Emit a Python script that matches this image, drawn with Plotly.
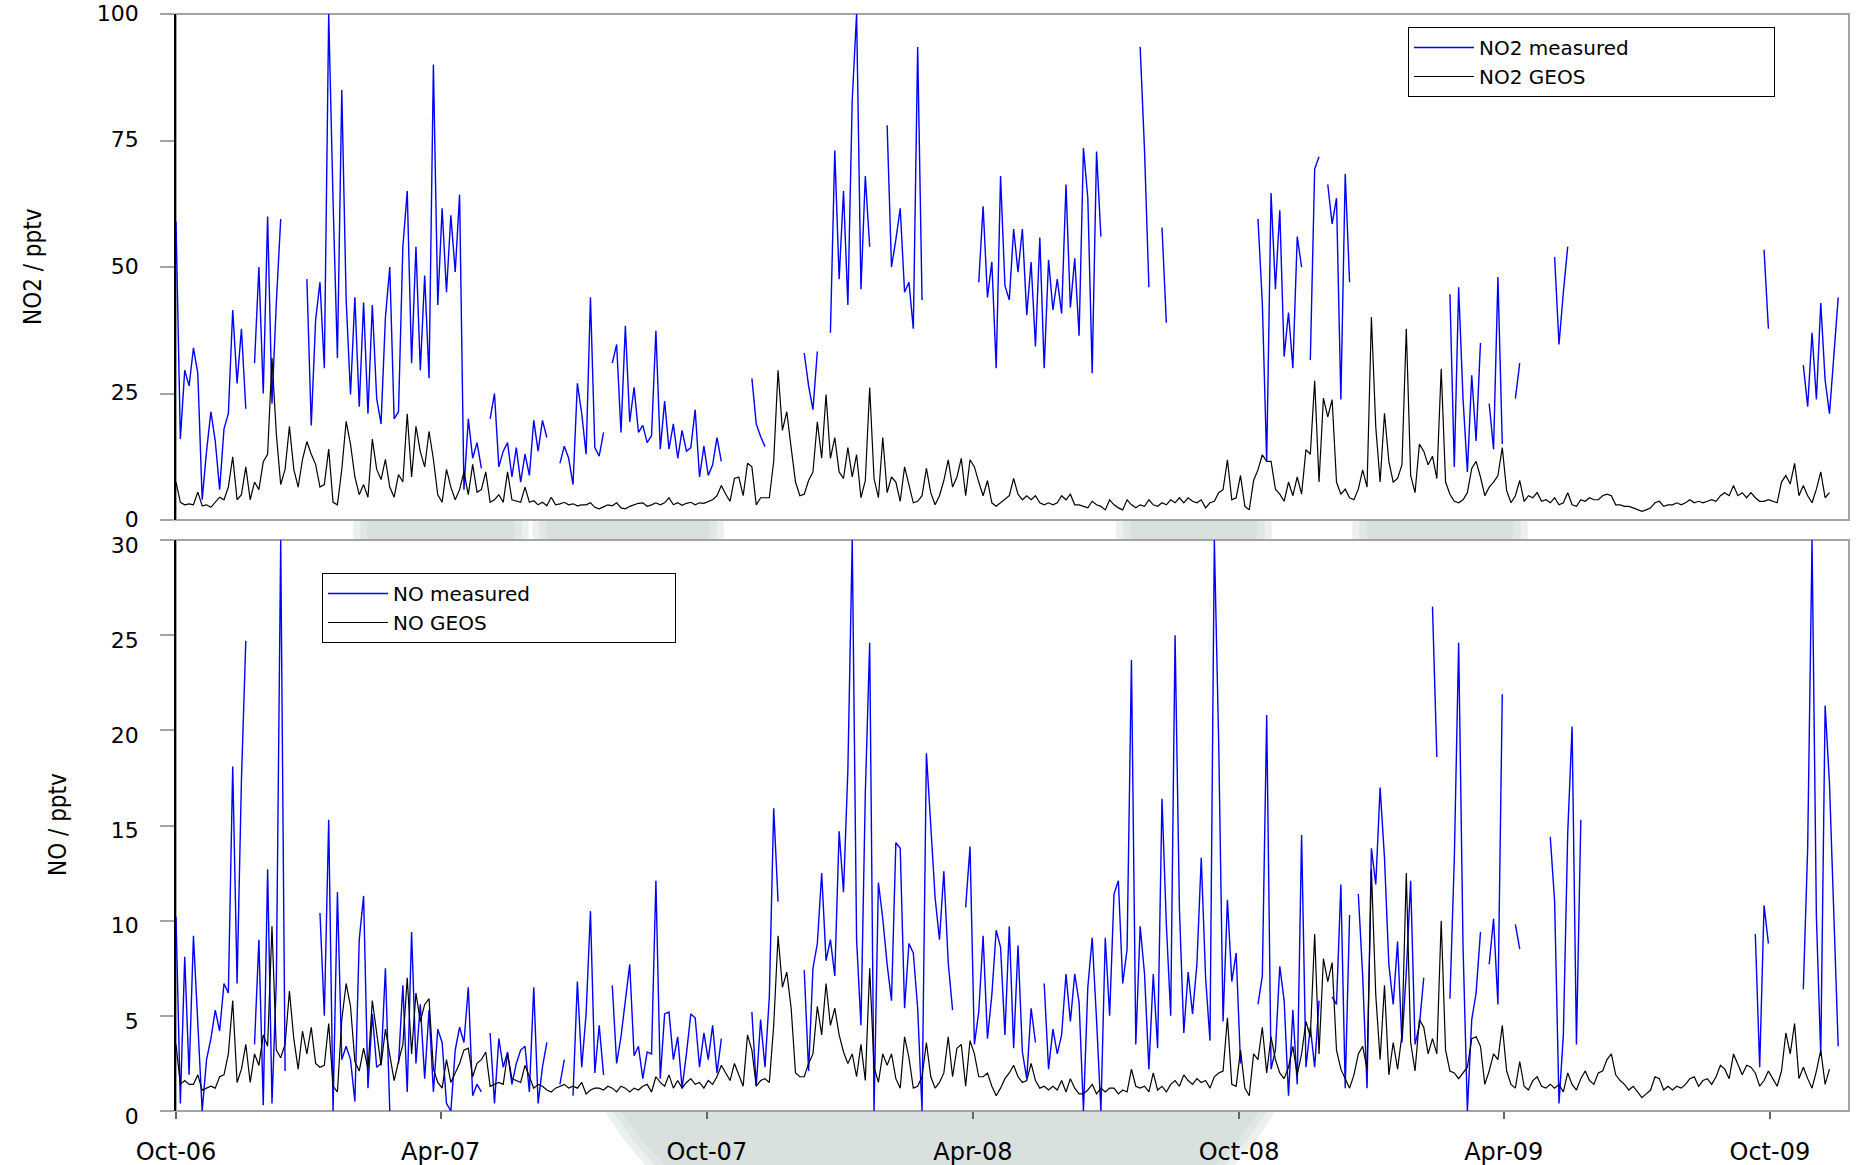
import pandas as pd
import plotly.graph_objects as go

N = None

# Daily-station series sampled every 3 days from 1 Oct 2006 (pptv)
no2_measured = [
    59, 16, 29.6, 26.5, 34, 29, 4, 13.6, 21.4, 15.6,
    6, 18, 21, 41.5, 27, 37.8, 22, N, 31, 50,
    25, 60, 23, 43, 59.5, N, N, N, N, N,
    47.6, 18.7, 39.5, 47, 30, 100, 63, 32, 85, 43.5,
    24.8, 44, 22.4, 43, 21, 42.5, 24, 19, 40, 50,
    20, 21.4, 54, 65, 31, 54, 29.6, 48.3, 28, 90,
    42.5, 61.6, 45, 60.2, 49, 64.3, 6, 20, 12.2, 15.3,
    10.2, N, 20, 25, 10.5, 13.6, 15.3, 8.5, 14.3, 7.5,
    13, 8.8, 19.7, 13.6, 19.7, 16.3, N, N, 11.2, 14.6,
    12.2, 7, 27, 21, 13, 44, 14.3, 12.6, 17.3, N,
    31, 34.7, 17.3, 38.4, 19.4, 26.2, 17.3, 18.7, 15.3, 16.7,
    37.4, 14, 23.5, 14, 19, 12.2, 17.7, 13.6, 14.3, 21.8,
    8.5, 14.6, 8.8, 10.9, 16.3, 11.6, N, N, N, N,
    N, N, 28, 19, 16.5, 14.5, N, N, N, N,
    N, N, N, N, 33, 26.5, 21.8, 33.3, N, N,
    37, 73, 47.6, 65, 42.5, 83, 100, 45.6, 68, 54,
    N, N, N, 78, 50, 55.4, 61.6, 45, 47, 37.8,
    93.5, 43.5, N, N, N, N, N, N, N, N,
    N, N, N, N, 47, 62, 44, 51, 30, 68,
    46.3, 43.5, 57.5, 49, 57.5, 40.5, 51, 34.3, 55.8, 30,
    51.4, 41.5, 47.6, 40.8, 66.3, 42, 51.7, 36.4, 73.5, 63.6,
    29, 72.8, 56, N, N, N, N, N, N, N,
    N, 93.5, 73, 46, N, N, 57.8, 39, N, N,
    N, N, N, N, N, N, N, N, N, N,
    N, N, N, N, N, N, N, N, 59.5, 42.9,
    11.6, 64.6, 45.6, 61.2, 32.3, 41, 30, 56, 50, N,
    31.6, 69.4, 71.8, N, 66.3, 58.5, 63.6, 23.8, 68.4, 47,
    N, N, N, N, N, N, N, N, N, N,
    N, N, N, N, N, N, N, N, N, N,
    N, N, 44.6, 10.5, 46, 24, 9.5, 28.6, 15.6, 35,
    N, 23, 14, 48, 15, N, N, 24, 31, N,
    N, N, N, N, N, N, 52, 34.7, 45, 54,
    N, N, N, N, N, N, N, N, N, N,
    N, N, N, N, N, N, N, N, N, N,
    N, N, N, N, N, N, N, N, N, N,
    N, N, N, N, N, N, N, N, N, N,
    N, N, N, N, 53.4, 37.8, N, N, N, N,
    N, N, N, 30.6, 22.4, 37, 23.8, 42.9, 27.6, 21,
    33.3, 44, N,
]

no2_geos = [
    7.5, 3.5, 3, 3.2, 3, 5.5, 2.8, 3, 2.5, 3.5,
    4.5, 4, 6.5, 12.5, 4, 5, 10.5, 4, 7.5, 6,
    11.5, 13, 32, 17, 7, 10, 18.5, 10, 6.5, 12,
    15.5, 13, 11, 6.5, 7, 14, 3.5, 3, 10, 19.5,
    15, 8.5, 5, 7, 4.5, 16, 10, 8, 12, 6.5,
    4.5, 9, 7.5, 21, 8.5, 18.5, 13.5, 10.5, 17.5, 12,
    5, 3.5, 10, 6.5, 4, 6, 9.5, 5, 11, 5.5,
    6, 9.5, 3.5, 4, 5, 3.5, 9.5, 4, 3.7, 3.5,
    6.5, 3.5, 3.8, 3, 3.5, 2.8, 4.5, 3, 3.2, 3.5,
    3, 3.2, 2.8, 3, 3, 3.4, 2.5, 2.2, 2.6, 3,
    2.8, 3.4, 2.4, 2.2, 2.7, 3, 3.3, 3.4, 2.7, 3,
    3.4, 3, 3.4, 4.4, 3, 3.4, 2.9, 3.3, 3.5, 3,
    3.4, 3.3, 3.7, 4, 4.8, 6.8, 5.1, 3.7, 8.2, 8.5,
    4.8, 11.2, 10.5, 3, 4.4, 4.4, 4.4, 11.6, 29.6, 17.7,
    21.4, 14.3, 7.5, 4.8, 5.1, 7.8, 9.5, 19.4, 12.2, 24.8,
    12.2, 16.3, 9.5, 8.2, 14.3, 8.5, 12.9, 4.4, 7.8, 26.2,
    8.2, 4.4, 16.3, 5.4, 8.5, 7.5, 3.7, 10.5, 6.8, 3.4,
    3.7, 4.8, 10.2, 5.4, 3, 4.8, 7.8, 11.9, 6.5, 8.5,
    12.2, 4.8, 11.9, 10.5, 7.5, 4.8, 7.8, 3.4, 2.7, 3.4,
    4, 4.8, 8.2, 5.1, 4, 4.8, 4, 4.8, 3.4, 3,
    3.4, 3, 3.4, 4.8, 4, 5.1, 3, 3, 2.7, 2.4,
    3.7, 3, 2.7, 2, 4, 3, 2.4, 2, 4, 3,
    2.4, 3, 2.7, 4, 3, 2.7, 3.4, 3, 4, 3.4,
    4.4, 3.4, 4.4, 3.7, 3.4, 4, 2.4, 3.4, 3.7, 5.4,
    6, 11.9, 4, 4.4, 8.8, 2.7, 2, 7.8, 9.9, 12.9,
    11.6, 11.6, 6.1, 5.1, 3.7, 7.5, 4.8, 8.5, 5.1, 13.9,
    13, 27.5, 7.5, 24.1, 20.4, 23.8, 7.5, 5.1, 6.1, 4.4,
    4, 6.1, 9.9, 6.5, 40.1, 18.4, 7.5, 21.1, 11.6, 7.5,
    8.2, 10.9, 37.8, 8.8, 5.4, 15, 13.6, 10.9, 12.6, 8.2,
    29.9, 7.5, 5.1, 3.7, 3.4, 4, 5.4, 10.2, 11.6, 8.5,
    4.8, 6.5, 7.5, 8.8, 14.3, 5.8, 3.4, 4.8, 7.8, 3.7,
    4.8, 4.4, 5.4, 3.7, 4, 3.4, 4.4, 3, 3.4, 5.4,
    3, 2.7, 4, 3.7, 4.4, 4, 4, 4.8, 5.1, 4.8,
    3, 3, 2.7, 2.7, 2.4, 2, 1.7, 2, 2.4, 3.4,
    3.7, 2.7, 3, 3, 3.4, 3, 3.4, 4, 3.4, 3.7,
    3.4, 3.7, 4, 3.7, 4.8, 5.4, 4.8, 6.8, 4.8, 5.4,
    4.4, 5.4, 4.4, 3.7, 3.7, 4, 3.7, 3.4, 7.5, 8.8,
    7.1, 11.2, 4.8, 6.8, 4.8, 3.4, 6.1, 9.5, 4.4, 5.4,
    N, N, N,
]

no_measured = [
    10.2, 0.4, 8.1, 1.9, 9.2, 4.2, 0, 2.7, 3.8, 5.3,
    4.2, 6.7, 6.2, 18.1, 6.7, 17.4, 24.7, N, 3.5, 9,
    0.3, 12.7, 0.4, 6.8, 30, 2.1, N, N, N, N,
    N, N, N, 10.4, 5, 15.3, 0, 11.5, 2.7, 3.4,
    2.7, 0.5, 9, 11.3, 1.2, 5.1, 2.3, 2.5, 7.5, 0,
    N, 2.5, 6.6, 1, 9.4, 2.5, 5.6, 1.7, 5.3, 1,
    4.3, 3.6, 0.4, 0, 3.2, 4.4, 3.6, 6.5, 0.8, 1.4,
    1, N, 4.1, 0.4, 3.8, 2.3, 3.1, 1.4, 2.5, 3.2,
    3.4, 1, 6.5, 0.4, 2.3, 3.6, N, N, 1.4, 2.7,
    N, 0.8, 6.8, 2.3, 5.1, 10.5, 2, 4.5, 1.9, N,
    6.6, 2.5, 3.9, 5.9, 7.7, 2.9, 3.4, 1.7, 3.1, 3,
    12.1, 1.7, 5.1, 5.2, 2.7, 3.9, 1.2, 3, 5.1, 4.9,
    2.3, 4.1, 2.7, 4.5, 2, 3.8, N, N, N, N,
    N, N, 5.2, 1.3, 4.8, 2.3, 6, 15.9, 11, N,
    N, N, N, N, 7.4, 2.1, 7.5, 8.8, 12.5, 7.9,
    9, 7.1, 14.7, 11.5, 17.9, 30, 9, 4.5, 16.7, 24.6,
    0, 12, 10.1, 7.7, 5.8, 14.1, 13.8, 5.4, 8.8, 8.3,
    5.4, 0, 18.8, 14.9, 11.2, 9, 12.6, 7.8, 5.3, N,
    N, 10.7, 13.9, 3.5, 5.2, 9.2, 3.8, 6.1, 9.5, 8.6,
    4, 9.7, 3.3, 8.7, 3.1, 1.7, 5.4, 3.6, N, 6.7,
    2.2, 4.3, 3, 4, 7.2, 4.7, 7.2, 5.7, 0, 6.5,
    9.1, 4.8, 0, 9.1, 5, 11.4, 12.1, 6.7, 8.5, 23.7,
    3.5, 9.7, 7.2, 2.2, 7.2, 3.3, 16.4, 9.8, 5, 25,
    10.6, 4.1, 7.3, 5.1, 7.7, 13.3, 7, 3.7, 30, 19.3,
    4.7, 11.1, 6.8, 8.3, 2.5, N, N, N, 5.6, 7.1,
    20.8, 2.2, 3.2, 7.6, 5.8, 0.8, 5.3, 1.4, 14.5, 2.3,
    4.4, 2.3, 5.8, N, N, 6, 5.6, 11.9, 1.2, 10.3,
    N, 11.4, 7.1, 1.2, 13.8, 11.9, 17, 13.3, 7.7, 5.6,
    8.9, 3.6, 7.3, 12.1, 3.5, 4.5, 7, N, 26.5, 18.6,
    N, N, 5.9, 13.2, 24.6, 8.7, 0, 4.8, 6.2, 9.4,
    N, 7.7, 10.1, 5.6, 21.9, N, N, 9.8, 8.5, N,
    N, N, N, N, N, 14.4, 11, 0.4, 4, 14.6,
    20.2, 3.5, 15.3, N, N, N, N, N, N, N,
    N, N, N, N, N, N, N, N, N, N,
    N, N, N, N, N, N, N, N, N, N,
    N, N, N, N, N, N, N, N, N, N,
    N, N, 9.3, 2.3, 10.8, 8.8, N, N, N, N,
    N, N, N, 6.4, 13.8, 30, 10.2, 2.9, 21.3, 17.2,
    9.8, 3.4, N,
]

no_geos = [
    3.5, 1.4, 1.6, 1.4, 1.4, 1.9, 1.1, 1.2, 1.3, 1.2,
    1.8, 1.9, 3, 5.8, 1.5, 2.2, 3.5, 1.5, 3, 2.4,
    4, 3.4, 9.7, 3.2, 2.8, 3.5, 6.3, 3.8, 2.2, 4.2,
    3, 4.4, 2.5, 2.3, 2.4, 4.6, 1.3, 1, 4.8, 6.7,
    5.5, 2.6, 2.1, 3.3, 2.2, 5.8, 4.1, 2.4, 4.3, 3,
    1.6, 2.6, 3.5, 7, 3, 6.2, 4.7, 5.6, 5.9, 2.2,
    1.5, 1.2, 2.7, 1.5, 2, 2.5, 3.2, 3.3, 1.8, 2.5,
    2.7, 3.1, 1.3, 1.4, 1.5, 1.4, 3, 1.7, 1.6, 1.5,
    2.4, 1.8, 1.2, 1.4, 1.3, 1.1, 1, 1.2, 1.3, 1.4,
    1.2, 1.3, 1.2, 1.5, 0.9, 1.1, 1.2, 1.2, 1.1, 1.3,
    1.2, 1.0, 1.3, 1.2, 1.0, 1.2, 1.1, 1.3, 1.4, 1.0,
    1.8, 1.5, 1.3, 1.9, 1.2, 1.6, 1.2, 1.5, 1.7, 1.4,
    1.5, 1.2, 1.6, 1.4, 1.8, 2.4, 2.0, 1.6, 2.5, 1.9,
    1.3, 4.0, 3.2, 1.3, 1.6, 1.7, 1.5, 4.5, 9.2, 6.5,
    7.3, 5.4, 2.0, 1.8, 1.8, 2.5, 3.0, 5.5, 4.0, 6.7,
    4.5, 5.4, 4.0, 3.1, 2.5, 3.0, 1.8, 3.5, 1.6, 7.5,
    2.3, 1.5, 3.0, 2.4, 3.0, 1.7, 1.2, 3.9, 2.8, 1.2,
    1.3, 1.8, 3.6, 1.8, 1.2, 1.5, 2.0, 3.9, 1.8, 3.3,
    3.5, 1.3, 3.7, 3.0, 1.8, 1.8, 2.0, 1.3, 0.8, 1.2,
    1.7, 2.0, 2.4, 1.8, 1.5, 1.6, 2.5, 1.6, 1.2, 1.3,
    1.1, 1.3, 1.1, 1.6, 1.0, 1.7, 1.2, 0.9, 0.9, 1.1,
    1.4, 0.9, 1.2, 1.0, 1.2, 1.2, 0.9, 1.1, 1.0, 2.2,
    1.3, 1.2, 1.3, 1.0, 2.0, 1.1, 1.3, 1.0, 1.4, 1.6,
    1.3, 1.9, 1.6, 1.4, 1.7, 1.5, 1.6, 1.2, 1.8, 2.0,
    2.1, 4.9, 1.4, 1.3, 3.2, 1.2, 0.8, 3, 2.7, 4.4,
    2, 3.9, 2.7, 2, 1.7, 2.3, 3.4, 1.9, 3, 4.7,
    3.9, 9.3, 3, 8, 6.8, 7.8, 3.2, 2.2, 1.7, 1.2,
    1.9, 3, 3.4, 2.2, 12.7, 6.1, 2.7, 6.6, 1.9, 3.6,
    2.2, 4, 12.5, 3.6, 2.1, 4.8, 4.4, 3, 3.8, 3,
    10, 3.2, 2.1, 2, 1.7, 2, 2.3, 3.8, 3.9, 3.4,
    1.4, 2.1, 3, 2.7, 4.5, 2.1, 1.4, 1.2, 2.6, 1.3,
    1.1, 1.6, 1.8, 1.3, 1.2, 1.4, 1.2, 1.4, 1, 2,
    1.4, 1.1, 1.7, 2.1, 1.6, 1.4, 2, 2.1, 2.7, 3,
    1.9, 1.6, 1.4, 1.1, 1.3, 1, 0.7, 0.9, 1.1, 1.8,
    1.7, 1.1, 1.3, 1.1, 1.3, 1.2, 1.4, 1.7, 1.8, 1.3,
    1.6, 1.7, 1.4, 1.8, 2.4, 2.2, 1.7, 3, 2.4, 1.9,
    2.4, 2.3, 2, 1.3, 1.6, 2.1, 1.7, 1.3, 2.1, 4.1,
    3, 4.6, 1.7, 2.3, 1.7, 1.2, 2.1, 3.2, 1.4, 2.2,
    N, N, N,
]

tick_dates = ["2006-10-01", "2007-04-01", "2007-10-01", "2008-04-01",
              "2008-10-01", "2009-04-01", "2009-10-01"]
tick_labels = ["Oct-06", "Apr-07", "Oct-07", "Apr-08", "Oct-08", "Apr-09", "Oct-09"]
no2_ticks = [0, 25, 50, 75, 100]
no_ticks = [0, 5, 10, 15, 20, 25, 30]

dates = pd.date_range("2006-10-01", periods=len(no2_geos), freq="3D")

# page geometry (pixels)
W, H = 1858, 1165
ML, MR, MT, MB = 176, 9, 14, 54
PW = W - ML - MR
PH = H - MT - MB


def fx(px):
    return (px - ML) / PW


def fy(py):
    return (H - MB - py) / PH


TOP_DOM = [fy(520), 1.0]
BOT_DOM = [0.0, fy(540)]

BLUE = "#0000ff"
FRAME_GREY = "#a3a3a3"
YTICK_FONT = dict(family="DejaVu Sans, Verdana, sans-serif", size=22, color="black")
XTICK_FONT = dict(family="DejaVu Sans, Verdana, sans-serif", size=24, color="black")
LEGEND_FONT = dict(family="DejaVu Sans, Verdana, sans-serif", size=20, color="black")
TITLE_FONT = dict(family="Liberation Sans Narrow, DejaVu Sans Condensed, Liberation Sans, sans-serif",
                  size=24, color="black")
PAD = "\u00a0" * 22

fig = go.Figure()

fig.add_trace(go.Scatter(x=dates, y=no2_measured, mode="lines", name="NO2 measured" + PAD,
                         line=dict(color=BLUE, width=1.4), xaxis="x", yaxis="y", legend="legend"))
fig.add_trace(go.Scatter(x=dates, y=no2_geos, mode="lines", name="NO2 GEOS",
                         line=dict(color="black", width=1.2), xaxis="x", yaxis="y", legend="legend"))
fig.add_trace(go.Scatter(x=dates, y=no_measured, mode="lines", name="NO measured" + PAD,
                         line=dict(color=BLUE, width=1.4), xaxis="x2", yaxis="y2", legend="legend2"))
fig.add_trace(go.Scatter(x=dates, y=no_geos, mode="lines", name="NO GEOS",
                         line=dict(color="black", width=1.2), xaxis="x2", yaxis="y2", legend="legend2"))

x_range = ["2006-10-01", "2009-11-24 10:00"]

y_common = dict(ticks="outside", ticklen=14, tickwidth=1.5, tickcolor=FRAME_GREY,
                tickfont=YTICK_FONT, ticklabelstandoff=17, automargin=False,
                ticklabeloverflow="allow",
                showgrid=False, zeroline=False, showline=True, linecolor="black", linewidth=1.6)

fig.update_layout(
    width=W, height=H,
    margin=dict(l=ML, r=MR, t=MT, b=MB, autoexpand=False),
    paper_bgcolor="white", plot_bgcolor="white",
    showlegend=True,
    xaxis=dict(domain=[0, 1], anchor="y", range=x_range, type="date", matches="x2",
               showticklabels=False, ticks="", showgrid=False, zeroline=False,
               showline=False, automargin=False),
    # labels of the two stacked value axes are nudged apart where they meet
    yaxis=dict(domain=TOP_DOM, anchor="x", range=[0, 100], tickvals=no2_ticks,
               ticklabelshift=-1, **y_common),
    xaxis2=dict(domain=[0, 1], anchor="y2", range=x_range, type="date",
                tickvals=tick_dates, ticktext=tick_labels, ticks="outside", ticklen=7,
                tickwidth=1.5, tickcolor="#666666", tickfont=XTICK_FONT, ticklabelstandoff=12,
                showgrid=False, zeroline=False, showline=False, automargin=False),
    yaxis2=dict(domain=BOT_DOM, anchor="x2", range=[0, 30], tickvals=no_ticks,
                ticklabelshift=5, **y_common),
    legend=dict(x=fx(1408), y=fy(27), xanchor="left", yanchor="top",
                bgcolor="white", bordercolor="black", borderwidth=1,
                font=LEGEND_FONT, itemwidth=60, tracegroupgap=0),
    legend2=dict(x=fx(322), y=fy(573), xanchor="left", yanchor="top",
                 bgcolor="white", bordercolor="black", borderwidth=1,
                 font=LEGEND_FONT, itemwidth=60, tracegroupgap=0),
)

# pale background blobs behind the panels, with soft edges
BLOB = "rgb(207,218,212)"


def soft_blob(cx, cy, rx, ry):
    for d in (10, 3, -4):
        fig.add_shape(type="circle", xref="paper", yref="paper", layer="below",
                      x0=fx(cx - rx - d), x1=fx(cx + rx + d),
                      y0=fy(cy + ry + d), y1=fy(cy - ry - d),
                      fillcolor=BLOB, opacity=0.4, line=dict(width=0))


soft_blob(940, 1000, 355, 269)
soft_blob(441, 530, 78, 60)
soft_blob(628, 530, 86, 60)
soft_blob(1194, 530, 68, 60)
soft_blob(1440, 530, 78, 60)

# white plot areas and grey frames
for dom in (TOP_DOM, BOT_DOM):
    fig.add_shape(type="rect", xref="paper", yref="paper", layer="below",
                  x0=0, x1=1, y0=dom[0], y1=dom[1],
                  fillcolor="white", line=dict(width=0))
    fig.add_shape(type="rect", xref="paper", yref="paper", layer="below",
                  x0=0, x1=1, y0=dom[0], y1=dom[1],
                  fillcolor="rgba(0,0,0,0)", line=dict(color=FRAME_GREY, width=2))

# axis titles
fig.add_annotation(text="NO2 / pptv", xref="paper", yref="paper", x=fx(33), y=fy(267),
                   textangle=-90, showarrow=False, xanchor="center", yanchor="middle",
                   font=TITLE_FONT)
fig.add_annotation(text="NO / pptv", xref="paper", yref="paper", x=fx(58), y=fy(825),
                   textangle=-90, showarrow=False, xanchor="center", yanchor="middle",
                   font=TITLE_FONT)

fig.write_html("out.html")
